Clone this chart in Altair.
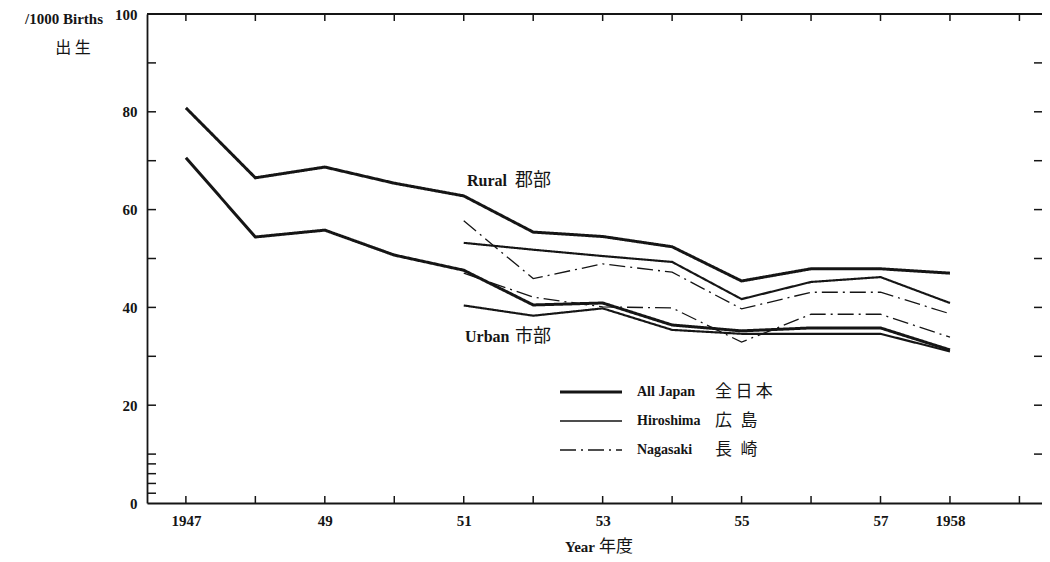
import altair as alt
import pandas as pd

# ---- data ----
years = list(range(1947, 1959))
all_japan_rural = [80.8, 66.5, 68.7, 65.4, 62.8, 55.4, 54.5, 52.4, 45.4, 47.9, 47.9, 47.0]
all_japan_urban = [70.6, 54.4, 55.8, 50.7, 47.6, 40.5, 40.9, 36.4, 35.2, 35.8, 35.8, 31.3]

pref_years = list(range(1951, 1959))
hiroshima_rural = [53.2, 51.8, 50.5, 49.3, 41.7, 45.2, 46.2, 40.9]
hiroshima_urban = [40.4, 38.3, 39.8, 35.4, 34.6, 34.6, 34.6, 31.0]
nagasaki_rural = [57.7, 45.9, 48.9, 47.2, 39.7, 43.1, 43.1, 38.7]
nagasaki_urban = [47.0, 42.1, 40.1, 39.9, 32.9, 38.6, 38.6, 33.9]

regions = ["All Japan", "Hiroshima", "Nagasaki"]
regions_jp = ["全\u2009日\u2009本", "広\u2002島", "長\u2002崎"]
x_label_years = [1947, 1949, 1951, 1953, 1955, 1957, 1958]
x_tick_years = list(range(1947, 1960))
y_label_values = [0, 20, 40, 60, 80, 100]
y_tick_values = [2, 4, 6, 8, 10, 20, 30, 40, 50, 60, 70, 80, 90]
right_tick_values = [10, 20, 30, 40, 50, 60, 70, 80, 90]

rows = []
for region, area, yrs, vals in [
    ("All Japan", "Rural", years, all_japan_rural),
    ("All Japan", "Urban", years, all_japan_urban),
    ("Hiroshima", "Rural", pref_years, hiroshima_rural),
    ("Hiroshima", "Urban", pref_years, hiroshima_urban),
    ("Nagasaki", "Rural", pref_years, nagasaki_rural),
    ("Nagasaki", "Urban", pref_years, nagasaki_urban),
]:
    for yr, v in zip(yrs, vals):
        rows.append({"year": yr, "value": v, "region": region, "series": region + " " + area})
df = pd.DataFrame(rows)

# ---- styles ----
W, H = 895, 489
INK = "#151515"
SERIF = "'Liberation Serif', 'Noto Sans CJK JP', serif"
CJK = "'Noto Sans CJK JP', sans-serif"
widths = [3.0, 1.3, 1.3]
dashes = [[1, 0], [1, 0], [16, 5, 2, 5]]

xscale = alt.Scale(domain=[1946.44, 1959.325], nice=False, zero=False)
yscale = alt.Scale(domain=[0, 100], nice=False, zero=True)

lines = alt.Chart(df).mark_line(color=INK, strokeJoin="miter").encode(
    x=alt.X("year:Q", scale=xscale,
            axis=alt.Axis(values=x_label_years,
                          labelExpr="datum.value == 1947 || datum.value == 1958 ? format(datum.value, 'd') : substring(format(datum.value, 'd'), 2)",
                          title=None,
                          labelFont=SERIF, labelFontSize=15, labelFontWeight="bold", labelColor=INK, labelPadding=10,
                          ticks=False, grid=False, domain=True, domainColor=INK, domainWidth=1.8)),
    y=alt.Y("value:Q", scale=yscale,
            axis=alt.Axis(values=y_label_values, title=None, labelFont=SERIF, labelFontSize=15,
                          labelFontWeight="bold", labelColor=INK, labelPadding=10, ticks=False, grid=False,
                          domain=True, domainColor=INK, domainWidth=1.8)),
    detail="series:N",
    strokeWidth=alt.StrokeWidth("region:N", scale=alt.Scale(domain=regions, range=widths), legend=None),
    strokeDash=alt.StrokeDash("region:N", scale=alt.Scale(domain=regions, range=dashes), legend=None),
)

# inward tick marks
yt = alt.Chart(pd.DataFrame({"v": y_tick_values})).mark_rule(color=INK, strokeWidth=1.5).encode(
    y=alt.Y("v:Q", scale=yscale), x=alt.value(0), x2=alt.value(9))
rt = alt.Chart(pd.DataFrame({"v": right_tick_values})).mark_rule(color=INK, strokeWidth=1.5).encode(
    y=alt.Y("v:Q", scale=yscale), x=alt.value(W - 8), x2=alt.value(W))
bt = alt.Chart(pd.DataFrame({"yr": x_tick_years})).mark_rule(color=INK, strokeWidth=1.5).encode(
    x=alt.X("yr:Q", scale=xscale), y=alt.value(H), y2=alt.value(H - 7))
tt = alt.Chart(pd.DataFrame({"yr": x_tick_years})).mark_rule(color=INK, strokeWidth=1.5).encode(
    x=alt.X("yr:Q", scale=xscale), y=alt.value(0), y2=alt.value(7))
top_line = alt.Chart(pd.DataFrame({"a": [0]})).mark_rule(color=INK, strokeWidth=1.8).encode(
    x=alt.value(0), x2=alt.value(W), y=alt.value(0))


def label(text, x, y, font=SERIF, size=15, weight="bold", align="left"):
    return alt.Chart(pd.DataFrame({"t": [text]})).mark_text(
        font=font, fontSize=size, fontWeight=weight, color=INK, align=align, baseline="middle").encode(
        text="t:N", x=alt.value(x), y=alt.value(y))


texts = [
    # y title
    label("/1000 Births", -44, 5, size=15, align="right"),
    label("出 生", -74, 34, font=CJK, size=16, weight="normal", align="center"),
    # x title
    label("Year", 418, 533, size=15),
    label("年度", 452, 533, font=CJK, size=17, weight="normal"),
    # annotations
    label("Rural", 320, 167, size=16),
    label("郡部", 368, 167, font=CJK, size=18, weight="normal"),
    label("Urban", 318, 323, size=16),
    label("市部", 368, 323, font=CJK, size=18, weight="normal"),
]

# legend
legend_layers = []
for i, (reg, jp) in enumerate(zip(regions, regions_jp)):
    ly = 378 + 29 * i
    ld = pd.DataFrame({"en": [reg]})
    legend_layers.append(alt.Chart(ld).mark_rule(color=INK, strokeWidth=widths[i], strokeDash=dashes[i]).encode(
        x=alt.value(413), x2=alt.value(475), y=alt.value(ly)))
    legend_layers.append(label(reg, 490, ly, size=14))
    legend_layers.append(label(jp, 568, ly, font=CJK, size=17, weight="normal"))

chart = alt.layer(lines, yt, rt, bt, tt, top_line, *texts, *legend_layers).properties(
    width=W, height=H,
    autosize=alt.AutoSizeParams(type="none"),
    padding={"left": 139, "top": 6, "right": 0, "bottom": 56},
    background="white",
).configure_view(stroke=None)

chart.save("out.html", embed_options={"renderer": "svg", "actions": False})
